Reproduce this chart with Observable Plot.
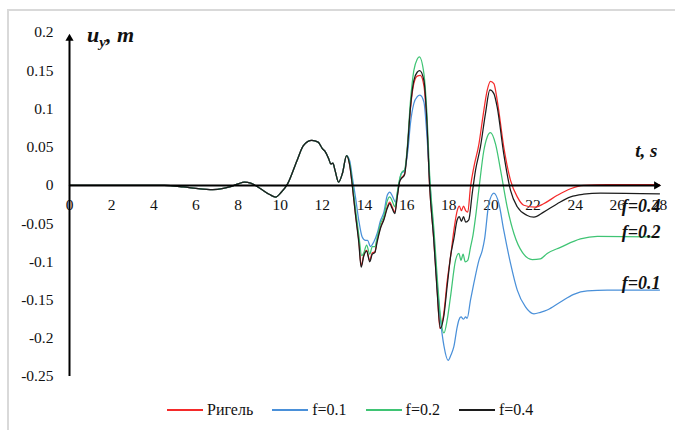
<!DOCTYPE html>
<html>
<head>
<meta charset="utf-8">
<script src="https://cdn.jsdelivr.net/npm/d3@7"></script>
<script src="https://cdn.jsdelivr.net/npm/@observablehq/plot@0.6"></script>
<style>
  body { margin: 0; background: #fff; }
  #chart { position: relative; width: 675px; height: 430px; overflow: hidden;
           font-family: "Liberation Serif", "DejaVu Serif", "Times New Roman", Times, serif; }
  #frame { position: absolute; left: 7px; top: 9px; width: 760px; height: 520px;
           border-left: 2px solid #d9d9d9; border-top: 2px solid #d9d9d9; }
  #plot { position: absolute; left: 0; top: 0; }
  #legend { position: absolute; left: 167px; top: 401px; display: flex; align-items: center;
            font-size: 16px; color: #111; }
  .item { display: flex; align-items: center; margin-right: 19px; }
  .swatch { width: 36px; height: 1.6px; margin-right: 4px; }
</style>
</head>
<body>
<div id="chart">
  <div id="frame"></div>
  <div id="plot"></div>
  <div id="legend"></div>
</div>
<script>
// Displacement u_y (m) over time t (s): shared start, then one branch per case.
const common = [[0,0],[4.5,0],[5.4,-0.002],[6.0,-0.004],[6.8,-0.0056],[7.3,-0.004],[7.6,-0.002],
  [8.0,0.002],[8.3,0.0043],[8.6,0.003],[9.07,-0.0044],[9.5,-0.012],[9.78,-0.0153],[10.05,-0.009],
  [10.35,0.002],[10.8,0.0327],[11.1,0.052],[11.5,0.0588],[11.8,0.0566],[12.0,0.048],[12.15,0.0436],
  [12.3,0.035],[12.4,0.028],[12.5,0.029],[12.6,0.02],[12.77,0.0043],[12.95,0.0155],[13.15,0.039]];

const rigel = [[13.3,0.026],[13.42,0.0],[13.57,-0.037],[13.73,-0.072],[13.84,-0.105],[13.97,-0.09],
  [14.1,-0.085],[14.25,-0.098],[14.37,-0.088],[14.49,-0.087],[14.6,-0.072],[14.76,-0.0545],
  [14.92,-0.0436],[15.08,-0.028],[15.2,-0.022],[15.31,-0.028],[15.44,-0.035],[15.55,-0.015],
  [15.68,0.0065],[15.79,0.011],[15.9,0.015],[16.03,0.046],[16.18,0.10],[16.34,0.133],[16.5,0.143],
  [16.65,0.144],[16.82,0.13],[16.95,0.085],[17.09,0.0],[17.29,-0.072],[17.45,-0.137],[17.58,-0.187],
  [17.75,-0.17],[17.93,-0.124],[18.1,-0.09],[18.24,-0.059],[18.4,-0.033],[18.5,-0.027],[18.6,-0.033],
  [18.7,-0.027],[18.8,-0.033],[18.9,-0.035],[19.03,-0.002],[19.19,0.024],[19.43,0.054],[19.62,0.09],
  [19.82,0.124],[19.98,0.136],[20.14,0.133],[20.3,0.111],[20.61,0.05],[20.93,0.0065],[21.25,-0.015],
  [21.56,-0.026],[22.1,-0.0285],[22.5,-0.024],[23.15,-0.013],[23.78,-0.0044],[24.4,0.0],[25.5,0.001],
  [28,0.001]];

const f01 = [[13.3,0.032],[13.42,0.011],[13.57,-0.015],[13.73,-0.046],[13.89,-0.0675],[14.05,-0.072],
  [14.15,-0.072],[14.28,-0.08],[14.44,-0.074],[14.6,-0.063],[14.76,-0.046],[14.92,-0.035],
  [15.08,-0.013],[15.2,-0.0087],[15.34,-0.015],[15.47,-0.022],[15.6,-0.004],[15.74,0.015],
  [15.9,0.0196],[16.06,0.046],[16.18,0.081],[16.34,0.107],[16.5,0.116],[16.63,0.118],[16.82,0.109],
  [16.95,0.07],[17.1,0.005],[17.3,-0.07],[17.45,-0.13],[17.6,-0.175],[17.77,-0.21],[17.97,-0.229],
  [18.1,-0.222],[18.24,-0.211],[18.4,-0.185],[18.48,-0.176],[18.58,-0.172],[18.7,-0.175],
  [18.8,-0.172],[18.87,-0.174],[19.03,-0.15],[19.19,-0.128],[19.43,-0.098],[19.59,-0.085],
  [19.7,-0.07],[19.9,-0.024],[20.14,-0.01],[20.38,-0.024],[20.61,-0.059],[20.93,-0.102],
  [21.25,-0.137],[21.64,-0.159],[22.04,-0.168],[22.35,-0.166],[22.67,-0.163],[23.3,-0.1525],
  [23.93,-0.1425],[24.57,-0.138],[25.52,-0.137],[28,-0.137]];

const f02 = [[13.3,0.028],[13.42,0.005],[13.57,-0.03],[13.73,-0.065],[13.87,-0.092],[13.97,-0.088],
  [14.1,-0.078],[14.25,-0.09],[14.37,-0.08],[14.49,-0.08],[14.6,-0.068],[14.76,-0.05],[14.92,-0.04],
  [15.08,-0.02],[15.2,-0.015],[15.31,-0.02],[15.44,-0.028],[15.55,-0.01],[15.68,0.01],[15.79,0.018],
  [15.9,0.02],[16.03,0.05],[16.18,0.11],[16.34,0.15],[16.5,0.165],[16.6,0.168],[16.82,0.146],
  [16.95,0.1],[17.1,0.01],[17.3,-0.06],[17.45,-0.12],[17.6,-0.17],[17.77,-0.193],[17.93,-0.175],
  [18.08,-0.146],[18.32,-0.098],[18.48,-0.089],[18.58,-0.098],[18.68,-0.09],[18.78,-0.1],
  [18.9,-0.098],[19.03,-0.081],[19.15,-0.065],[19.3,-0.035],[19.45,0.0],[19.66,0.045],[19.82,0.063],
  [19.98,0.069],[20.22,0.054],[20.46,0.0196],[20.77,-0.028],[21.09,-0.063],[21.5,-0.088],
  [21.96,-0.097],[22.35,-0.096],[22.67,-0.089],[23.3,-0.081],[24.25,-0.07],[25.05,-0.0667],
  [28,-0.0675]];

const f04 = [[13.3,0.026],[13.42,0.0],[13.57,-0.038],[13.73,-0.075],[13.84,-0.107],[13.97,-0.092],
  [14.1,-0.086],[14.25,-0.1],[14.37,-0.09],[14.49,-0.088],[14.6,-0.074],[14.76,-0.056],[14.92,-0.045],
  [15.08,-0.03],[15.2,-0.024],[15.31,-0.03],[15.44,-0.037],[15.55,-0.016],[15.68,0.006],[15.79,0.01],
  [15.9,0.014],[16.03,0.046],[16.18,0.102],[16.34,0.137],[16.5,0.148],[16.62,0.15],[16.82,0.137],
  [16.95,0.09],[17.09,0.0],[17.29,-0.072],[17.45,-0.14],[17.6,-0.187],[17.77,-0.17],[17.93,-0.13],
  [18.1,-0.09],[18.24,-0.07],[18.4,-0.045],[18.5,-0.041],[18.6,-0.047],[18.7,-0.041],[18.8,-0.048],
  [18.95,-0.045],[19.11,-0.011],[19.27,0.02],[19.5,0.05],[19.74,0.094],[19.95,0.125],[20.14,0.12],
  [20.3,0.102],[20.61,0.041],[20.93,-0.0065],[21.25,-0.028],[21.7,-0.039],[22.04,-0.0415],
  [22.5,-0.035],[23.15,-0.024],[23.78,-0.015],[24.4,-0.0115],[25.2,-0.010],[28,-0.011]];

const seriesNames = ["Ригель", "f=0.1", "f=0.2", "f=0.4"];
const seriesTails = [rigel, f01, f02, f04];
const seriesColors = ["#f42a2a", "#4a90d9", "#3fc474", "#1c1c1c"];

const xTicks = [0, 2, 4, 6, 8, 10, 12, 14, 16, 18, 20, 22, 24, 26, 28];
const yTicks = [-0.25, -0.2, -0.15, -0.1, -0.05, 0, 0.05, 0.1, 0.15, 0.2];

// Curve-end annotations: text, series it belongs to, vertical nudge in px
const endLabels = [["f=0.4", "f=0.4", 12], ["f=0.2", "f=0.2", -5], ["f=0.1", "f=0.1", -7]];

const rows = [];
seriesNames.forEach((name, i) => {
  for (const [t, u] of common.concat(seriesTails[i])) rows.push({series: name, t, u});
});
const lastValue = name => seriesTails[seriesNames.indexOf(name)].at(-1);

const serif = "'Liberation Serif', 'DejaVu Serif', 'Times New Roman', Times, serif";
const fmt = d => String(Math.round(d * 100) / 100);

const plot = Plot.plot({
  width: 675,
  height: 395,
  marginLeft: 69,
  marginRight: 16,
  marginTop: 32,
  marginBottom: 19,
  x: {domain: [0, 28], axis: null},
  y: {domain: [-0.25, 0.2], axis: null},
  color: {domain: seriesNames, range: seriesColors},
  style: {fontFamily: serif, fontSize: "15.5px", background: "transparent", color: "#111",
          overflow: "visible"},
  marks: [
    Plot.text(xTicks, {x: d => d, y: 0, dy: 20, text: d => String(d), fill: "#111"}),
    Plot.text(yTicks, {x: 0, y: d => d, dx: -16, textAnchor: "end", text: fmt, fill: "#111"}),
    Plot.line(rows, {x: "t", y: "u", z: "series", stroke: "series", strokeWidth: 1.25,
                     curve: "monotone-x"}),
    // axes drawn as arrows through the origin
    Plot.ruleX([0], {y1: -0.25, y2: 0.19, stroke: "#000", strokeWidth: 2}),
    Plot.ruleY([0], {x1: 0, x2: 27.8, stroke: "#000", strokeWidth: 2}),
    Plot.dot([{t: 0, u: 0.2}], {x: "t", y: "u", symbol: "triangle2", r: 3.9, fill: "#000",
                                 dy: 6}),
    Plot.dot([{t: 28, u: 0}], {x: "t", y: "u", symbol: "triangle2", r: 3.9, fill: "#000",
                                rotate: 90, dx: -3}),
    Plot.text(["t, s"], {x: 28, y: 0, dx: -2, dy: -34, textAnchor: "end", text: d => d,
                         fontSize: 19, fontStyle: "italic", fontWeight: "bold", fill: "#111"}),
    ...endLabels.map(([label, name, nudge]) =>
      Plot.text([label], {x: 28, y: () => lastValue(name)[1], dx: 1, dy: nudge, textAnchor: "end",
                          text: d => d, fontSize: 18, fontStyle: "italic", fontWeight: "bold",
                          fill: "#111"}))
  ]
});
document.getElementById("plot").append(plot);

// Vertical axis name with a subscript
const xs = plot.scale("x"), ys = plot.scale("y");
const title = d3.select(plot).append("text")
  .attr("x", xs.apply(0) + 18)
  .attr("y", ys.apply(0.2) + 10)
  .attr("text-anchor", "start")
  .attr("font-size", 22)
  .attr("font-style", "italic")
  .attr("font-weight", "bold")
  .attr("fill", "#111");
title.append("tspan").text("u");
title.append("tspan").attr("dy", 5).attr("font-size", 15).text("y");
title.append("tspan").attr("dy", -5).text(", m");

// Legend
const legend = d3.select("#legend");
seriesNames.forEach((name, i) => {
  const item = legend.append("div").attr("class", "item");
  item.append("div").attr("class", "swatch").style("background", seriesColors[i]);
  item.append("span").text(name);
});
</script>
</body>
</html>
